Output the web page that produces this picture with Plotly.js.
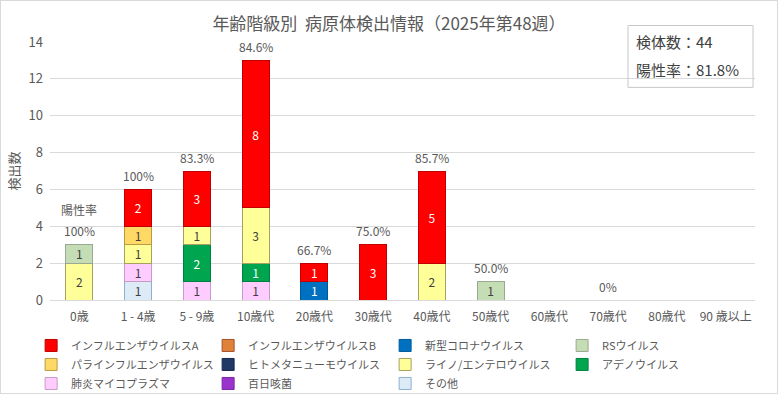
<!DOCTYPE html>
<html><head><meta charset="utf-8">
<script src="https://cdn.plot.ly/plotly-3.0.1.min.js"></script>
<style>html,body{margin:0;padding:0;background:#fff}#wrap{position:relative;width:778px;height:394px}#frame{position:absolute;left:0;top:0;width:776px;height:392px;border:1px solid #d9d9d9;pointer-events:none}</style>
</head><body><div id="wrap"><div id="chart" style="width:778px;height:394px"></div><div id="frame"></div></div>
<script>
const categories = ["0歳","1 - 4歳","5 - 9歳","10歳代","20歳代","30歳代","40歳代","50歳代","60歳代","70歳代","80歳代","90 歳以上"];
const fluA    = [0,2,3,8,1,3,5,0,0,0,0,0];
const fluB    = [0,0,0,0,0,0,0,0,0,0,0,0];
const covid   = [0,0,0,0,1,0,0,0,0,0,0,0];
const rsv     = [1,0,0,0,0,0,0,1,0,0,0,0];
const para    = [0,1,0,0,0,0,0,0,0,0,0,0];
const hmpv    = [0,0,0,0,0,0,0,0,0,0,0,0];
const rhino   = [2,1,1,3,0,0,2,0,0,0,0,0];
const adeno   = [0,0,2,1,0,0,0,0,0,0,0,0];
const myco    = [0,1,1,1,0,0,0,0,0,0,0,0];
const pertussis = [0,0,0,0,0,0,0,0,0,0,0,0];
const other   = [0,1,0,0,0,0,0,0,0,0,0,0];
const positiveRate = ["100%","100%","83.3%","84.6%","66.7%","75.0%","85.7%","50.0%","","0%","",""];
const sampleCount = 44;
const totalRate = "81.8%";

// legend order (top-left to bottom-right)
const series = [
  {name:"インフルエンザウイルスA", y:fluA, color:"#FF0000", line:"#C00000", tc:"#ffffff"},
  {name:"インフルエンザウイルスB", y:fluB, color:"#E0813A", line:"#A0522D", tc:"#404040"},
  {name:"新型コロナウイルス", y:covid, color:"#0070C0", line:"#005A9A", tc:"#ffffff"},
  {name:"RSウイルス", y:rsv, color:"#C5DDB4", line:"#9AA893", tc:"#404040"},
  {name:"パラインフルエンザウイルス", y:para, color:"#FFD966", line:"#B89A40", tc:"#404040"},
  {name:"ヒトメタニューモウイルス", y:hmpv, color:"#203864", line:"#162850", tc:"#ffffff"},
  {name:"ライノ/エンテロウイルス", y:rhino, color:"#FFFF99", line:"#A8A060", tc:"#404040"},
  {name:"アデノウイルス", y:adeno, color:"#00A550", line:"#00803E", tc:"#ffffff"},
  {name:"肺炎マイコプラズマ", y:myco, color:"#FFCCFF", line:"#C79AC7", tc:"#404040"},
  {name:"百日咳菌", y:pertussis, color:"#9933CC", line:"#7A28A3", tc:"#ffffff"},
  {name:"その他", y:other, color:"#DDEBF7", line:"#8FAFD0", tc:"#404040"}
];

const traces = series.slice().reverse().map(s => ({
  type:"bar", name:s.name, x:categories, y:s.y.map(v => v>0 ? v : null),
  text:s.y.map(v => v>0 ? String(v) : ""),
  textposition:"inside", insidetextanchor:"middle", constraintext:"none", textangle:0,
  textfont:{color:s.tc, size:12, family:"Noto Sans CJK JP"},
  marker:{color:s.color, line:{color:s.line, width:1}},
  hoverinfo:"skip"
}));

const totals = categories.map((c,i) => series.reduce((a,s)=>a+s.y[i],0));
const annotations = categories.map((c,i) => ({
  x:c, y:totals[i], xref:"x", yref:"y", text:positiveRate[i], showarrow:false,
  yanchor:"middle", yshift:14, font:{size:12, color:"#595959"}
}));
annotations.push({x:categories[0], y:totals[0], xref:"x", yref:"y", text:"陽性率", showarrow:false,
  yanchor:"middle", yshift:35, font:{size:12, color:"#595959"}});
annotations.push({xref:"paper", yref:"paper", x:0.829, y:1.002, xanchor:"left", yanchor:"middle",
  text:"検体数：" + sampleCount, showarrow:false, font:{size:15, color:"#404040"}});
annotations.push({xref:"paper", yref:"paper", x:0.829, y:0.893, xanchor:"left", yanchor:"middle",
  text:"陽性率：" + totalRate, showarrow:false, font:{size:15, color:"#404040"}});

const layout = {
  width:778, height:394,
  margin:{l:50, r:23, t:42, b:94},
  font:{family:"Noto Sans CJK JP, sans-serif", color:"#595959", size:12},
  title:{text:"年齢階級別  病原体検出情報（2025年第48週）", x:0.5, xanchor:"center", y:0.94, yanchor:"middle", font:{size:17, color:"#595959"}},
  barmode:"stack", bargap:0.54,
  paper_bgcolor:"#ffffff", plot_bgcolor:"#ffffff",
  xaxis:{type:"category", showgrid:false, showline:true, linecolor:"#d9d9d9", ticks:"", tickfont:{size:12, color:"#595959"}, ticklabelstandoff:6, fixedrange:true, automargin:false},
  yaxis:{range:[0,14], dtick:2, showgrid:true, gridcolor:"#d9d9d9", zeroline:false, showline:false, ticks:"",
    tickfont:{size:13, color:"#595959"}, ticklabelstandoff:6, automargin:false,
    title:{text:"検出数", font:{size:13, color:"#595959"}, standoff:6}},
  legend:{orientation:"h", traceorder:"reversed", xref:"container", yref:"container", x:0.04, xanchor:"left", y:0.16, yanchor:"top",
    entrywidth:132, entrywidthmode:"pixels", itemwidth:30, font:{size:11, color:"#595959"}, tracegroupgap:0},
  shapes:[{type:"rect", xref:"paper", yref:"paper", x0:0.8199, x1:0.9972, y0:0.824, y1:1.064,
    line:{color:"#c8c8c8", width:1}, fillcolor:"rgba(0,0,0,0)"}],
  annotations:annotations,
  showlegend:true
};
Plotly.newPlot("chart", traces, layout, {displayModeBar:false, staticPlot:true});
</script></body></html>
